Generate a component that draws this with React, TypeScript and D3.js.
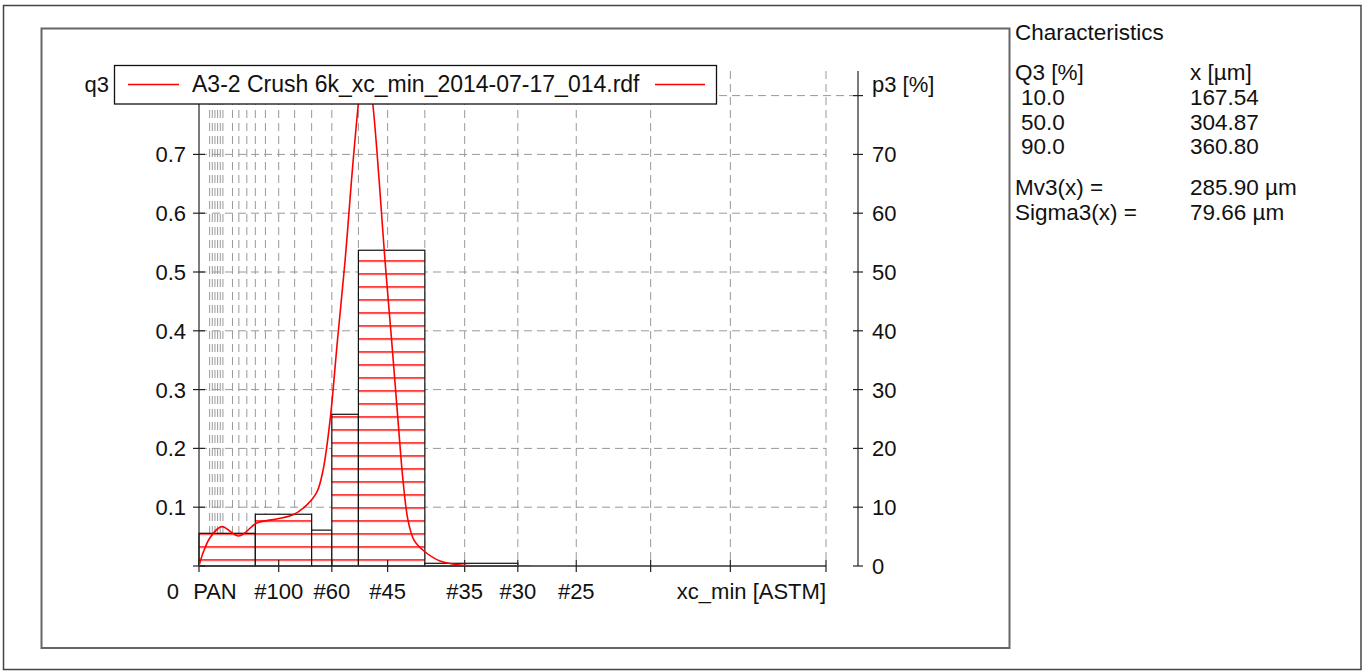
import React from 'react';
import * as d3 from 'd3';

// sieve sizes in µm where the vertical grid lines sit
const gridSizes = [20, 25, 30, 35, 40, 45, 63, 75, 90, 106, 125, 150, 180, 212, 250, 300, 355, 425, 500, 600, 710, 850, 1000, 1180];
const axisTickSizes = [0, 150, 250, 355, 500, 600, 710, 850, 1000, 1180];
const xLabels = ['PAN', '#100', '#60', '#45', '#35', '#30', '#25'];
const xLabelSizes = [30, 150, 250, 355, 500, 600, 710];

// histogram bins (µm) and q3 density
const binEdges = [0, 106, 212, 250, 300, 425, 600];
const binQ3 = [0.0556, 0.088, 0.061, 0.258, 0.537, 0.0046];

// smoothed density curve
const curveSize = [0, 7.5, 20.7, 42.7, 75, 108.7, 146, 177, 203, 222, 233.5, 246.7, 260.6, 275, 287, 300, 312.6, 327, 339, 350, 362.5, 374.5, 383.9, 393.3, 404.6, 423.4, 453.5, 491.2, 528.8, 625];
const curveQ3 = [0, 0.022, 0.048, 0.067, 0.051, 0.073, 0.08, 0.087, 0.104, 0.126, 0.163, 0.248, 0.384, 0.52, 0.656, 0.787, 0.886, 0.787, 0.656, 0.52, 0.384, 0.248, 0.146, 0.078, 0.044, 0.0255, 0.0085, 0.0017, 0, 0];

const leftTicks = [0.1, 0.2, 0.3, 0.4, 0.5, 0.6, 0.7, 0.8];
const rightTicks = [0, 10, 20, 30, 40, 50, 60, 70, 80];

const legendLabel = 'A3-2 Crush 6k_xc_min_2014-07-17_014.rdf';
const charQ3 = ['10.0', '50.0', '90.0'];
const charX = ['167.54', '304.87', '360.80'];
const charStats = [
  ['Mv3(x) =', '285.90 µm'],
  ['Sigma3(x) =', '79.66 µm'],
];

const FONT = '"Liberation Sans", Arial, Helvetica, sans-serif';

export default function App() {
  const left = 199, right = 826, axisR = 858, top = 71, bottom = 566;
  const x = d3.scaleLinear().domain([0, 1180]).range([left, right]);
  const y = d3.scaleLinear().domain([0, 0.8]).range([bottom, 95.6]);
  const yR = d3.scaleLinear().domain([0, 80]).range([bottom, 95.6]);

  const line = d3.line<number>()
    .x((_, i) => x(curveSize[i]))
    .y((d) => y(d))
    .curve(d3.curveCatmullRom.alpha(0.5));

  const hatchStep = 13;
  const bins = binQ3.map((v, i) => ({ x0: binEdges[i], x1: binEdges[i + 1], v }));
  const col2 = 1190;

  return (
    <div style={{ position: 'absolute', left: 0, top: 0 }}>
      <svg width={1362} height={671} style={{ display: 'block', fontFamily: FONT }}>
        <defs>
          <pattern id="hatch" patternUnits="userSpaceOnUse" x={0} y={bottom - 6 - 0.75} width={20} height={hatchStep}>
            <line x1={0} x2={20} y1={0.75} y2={0.75} stroke="#ff0000" strokeWidth={1.5} />
          </pattern>
          <clipPath id="plot">
            <rect x={left} y={top} width={axisR - left} height={bottom - top} />
          </clipPath>
        </defs>
        <rect width={1362} height={671} fill="#fff" />
        <rect x={3.5} y={5.5} width={1357.5} height={664} fill="none" stroke="#444" strokeWidth={1.5} />
        <rect x={41.5} y={28.5} width={968} height={619.5} fill="none" stroke="#666" strokeWidth={2} />

        {/* grid */}
        <g stroke="#999" strokeWidth={1} strokeDasharray="8,5" fill="none">
          {leftTicks.map((t) => (
            <line key={'h' + t} x1={left} x2={t === 0.8 ? axisR : right} y1={y(t)} y2={y(t)} />
          ))}
          {gridSizes.map((s) => (
            <line key={'v' + s} x1={x(s)} x2={x(s)} y1={top} y2={bottom} />
          ))}
        </g>

        {/* histogram */}
        <g>
          {bins.map((b, i) => (
            <g key={i}>
              <rect x={x(b.x0)} y={y(b.v)} width={x(b.x1) - x(b.x0)} height={bottom - y(b.v)} fill="#fff" />
              <rect x={x(b.x0)} y={y(b.v)} width={x(b.x1) - x(b.x0)} height={bottom - y(b.v)} fill="url(#hatch)" />
              <rect x={x(b.x0)} y={y(b.v)} width={x(b.x1) - x(b.x0)} height={bottom - y(b.v)} fill="none" stroke="#111" strokeWidth={1.2} />
            </g>
          ))}
        </g>

        {/* axes */}
        <g stroke="#222" strokeWidth={1.2}>
          <line x1={left} x2={left} y1={top} y2={bottom} />
          <line x1={left} x2={right} y1={bottom} y2={bottom} stroke="#333" strokeWidth={1.6} />
          <line x1={axisR} x2={axisR} y1={top} y2={bottom} />
          {[0, ...leftTicks].map((t) => (
            <line key={'lt' + t} x1={left - 6} x2={left + 6} y1={y(t)} y2={y(t)} />
          ))}
          {rightTicks.map((t) => (
            <line key={'rt' + t} x1={axisR - 5} x2={axisR + 5} y1={yR(t)} y2={yR(t)} />
          ))}
          {axisTickSizes.map((s) => (
            <line key={'bt' + s} x1={x(s)} x2={x(s)} y1={bottom - 6} y2={bottom + 6} />
          ))}
        </g>

        {/* density curve */}
        <path d={line(curveQ3) || ''} fill="none" stroke="#ff0000" strokeWidth={1.6} clipPath="url(#plot)" />

        {/* tick labels */}
        <g fontSize={22} fill="#111">
          {leftTicks.filter((t) => t < 0.8).map((t) => (
            <text key={'ll' + t} x={186} y={y(t)} dy="0.36em" textAnchor="end">{t.toFixed(1)}</text>
          ))}
          {rightTicks.filter((t) => t < 80).map((t) => (
            <text key={'rl' + t} x={872} y={yR(t)} dy="0.36em">{t}</text>
          ))}
          <text x={179} y={599} textAnchor="end">0</text>
          {xLabels.map((l, i) => (
            <text key={l} x={x(xLabelSizes[i])} y={599} textAnchor="middle">{l}</text>
          ))}
          <text x={right} y={599} textAnchor="end">xc_min [ASTM]</text>
          <text x={109} y={84} dy="0.36em" textAnchor="end">q3</text>
          <text x={872} y={84} dy="0.36em">p3 [%]</text>
        </g>

        {/* legend */}
        <rect x={114.5} y={65.5} width={602} height={38.5} fill="#fff" stroke="#111" strokeWidth={1.3} />
        <line x1={128} x2={179} y1={84.5} y2={84.5} stroke="#ff0000" strokeWidth={1.3} />
        <line x1={655} x2={705} y1={84.5} y2={84.5} stroke="#ff0000" strokeWidth={1.3} />
        <text x={192} y={84} dy="0.36em" fontSize={23} fill="#111">{legendLabel}</text>

        {/* characteristics */}
        <g fontSize={22.5} fill="#111">
          <text x={1015} y={40}>Characteristics</text>
          <text x={1015} y={80}>Q3 [%]</text>
          <text x={col2} y={80}>x [µm]</text>
          {charQ3.map((q, i) => (
            <g key={q}>
              <text x={1021} y={105 + i * 24.5}>{q}</text>
              <text x={col2} y={105 + i * 24.5}>{charX[i]}</text>
            </g>
          ))}
          {charStats.map((r, i) => (
            <g key={r[0]}>
              <text x={1015} y={195 + i * 25}>{r[0]}</text>
              <text x={col2} y={195 + i * 25}>{r[1]}</text>
            </g>
          ))}
        </g>
      </svg>
    </div>
  );
}
